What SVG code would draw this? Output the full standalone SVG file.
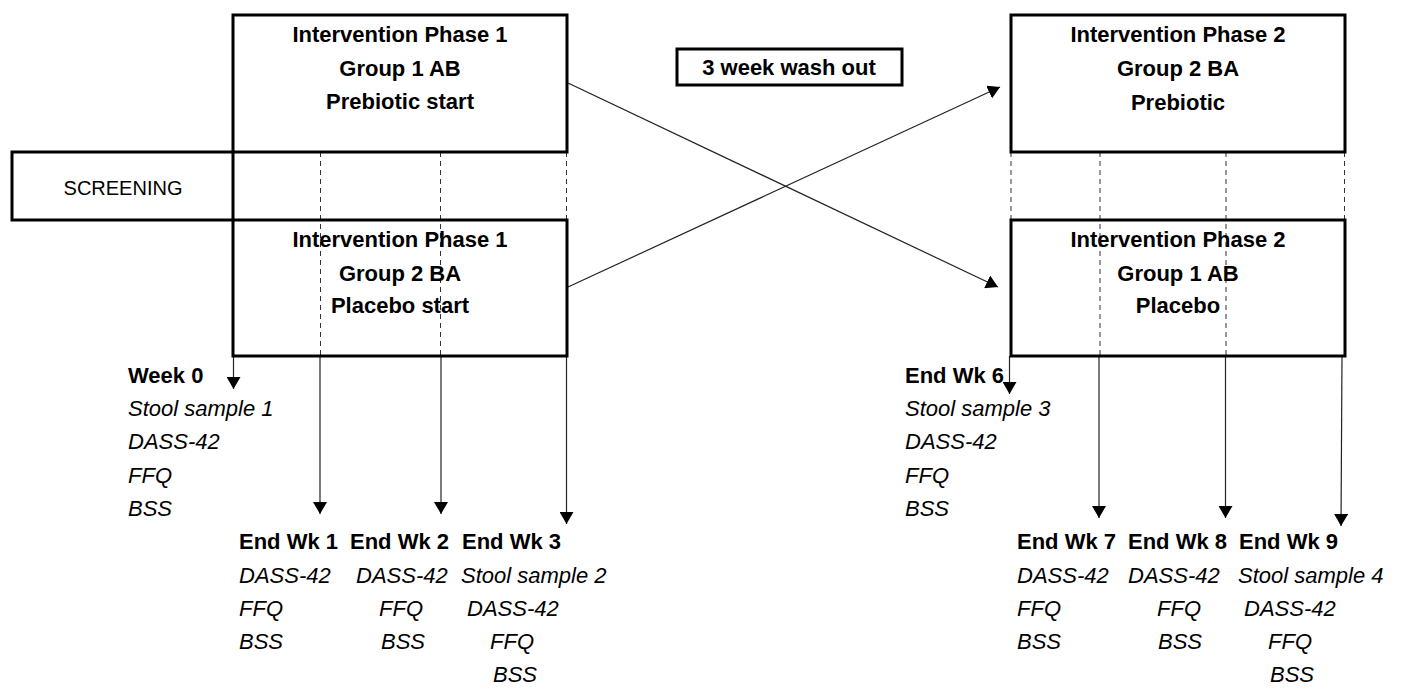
<svg xmlns="http://www.w3.org/2000/svg" width="1402" height="689" viewBox="0 0 1402 689">
<style>
.box{fill:#fff;stroke:#000;stroke-width:3}
.dash{stroke:#333;stroke-width:1;stroke-dasharray:5 4;fill:none}
.arr{stroke:#222;stroke-width:1.2;fill:none;marker-end:url(#ah)}
.b{font-family:"Liberation Sans",Arial,sans-serif;font-weight:bold;font-size:22px;fill:#000}
.c{text-anchor:middle}
.i{font-family:"Liberation Sans",Arial,sans-serif;font-style:italic;font-size:22px;fill:#000}
.r{font-family:"Liberation Sans",Arial,sans-serif;font-size:20px;fill:#000}
</style>
<defs>
<marker id="ah" markerUnits="userSpaceOnUse" markerWidth="13" markerHeight="14" refX="12" refY="7" orient="auto" viewBox="0 0 13 14">
<path d="M0,0 L12,7 L0,14 z" fill="#000"/>
</marker>
</defs>
<rect width="1402" height="689" fill="#fff"/>

<g id="connectors">
<line class="dash" x1="320.5" y1="152" x2="320.5" y2="356"/>
<line class="dash" x1="440.5" y1="152" x2="440.5" y2="356"/>
<line class="dash" x1="566.5" y1="152" x2="566.5" y2="220"/>
<line class="dash" x1="1011" y1="152" x2="1011" y2="220"/>
<line class="dash" x1="1100" y1="152" x2="1100" y2="356"/>
<line class="dash" x1="1226" y1="152" x2="1226" y2="356"/>
<line class="dash" x1="1344.5" y1="152" x2="1344.5" y2="220"/>
<line class="arr" x1="233.5" y1="356" x2="233.5" y2="389"/>
<line class="arr" x1="320" y1="356" x2="320" y2="514"/>
<line class="arr" x1="441" y1="356" x2="441" y2="514"/>
<line class="arr" x1="566.5" y1="356" x2="566.5" y2="524"/>
<line class="arr" x1="1009.5" y1="356" x2="1009.5" y2="394"/>
<line class="arr" x1="1099" y1="356" x2="1099" y2="518"/>
<line class="arr" x1="1225.5" y1="356" x2="1225.5" y2="518"/>
<line class="arr" x1="1342" y1="356" x2="1341" y2="526"/>
<line class="arr" x1="568" y1="83" x2="998" y2="287"/>
<line class="arr" x1="568" y1="287" x2="1000" y2="87"/>
</g>

<g id="screening">
<rect class="box" x="12" y="152" width="221" height="68"/>
<text class="r c" x="123" y="195">SCREENING</text>
</g>

<g id="phase1-group1">
<rect class="box" x="233" y="15" width="334" height="137" style="fill:none"/>
<text class="b c" x="400" y="42">Intervention Phase 1</text>
<text class="b c" x="400" y="76">Group 1 AB</text>
<text class="b c" x="400" y="109">Prebiotic start</text>
</g>

<g id="phase1-group2">
<rect class="box" x="233" y="220" width="334" height="136" style="fill:none"/>
<text class="b c" x="400" y="247">Intervention Phase 1</text>
<text class="b c" x="400" y="281">Group 2 BA</text>
<text class="b c" x="400" y="313">Placebo start</text>
</g>

<g id="washout">
<rect class="box" x="677" y="49" width="225" height="36"/>
<text class="b c" x="789" y="75">3 week wash out</text>
</g>

<g id="phase2-group2">
<rect class="box" x="1011" y="15" width="334" height="137"/>
<text class="b c" x="1178" y="42">Intervention Phase 2</text>
<text class="b c" x="1178" y="76">Group 2 BA</text>
<text class="b c" x="1178" y="110">Prebiotic</text>
</g>

<g id="phase2-group1">
<rect class="box" x="1011" y="220" width="334" height="136" style="fill:none"/>
<text class="b c" x="1178" y="247">Intervention Phase 2</text>
<text class="b c" x="1178" y="281">Group 1 AB</text>
<text class="b c" x="1178" y="313">Placebo</text>
</g>

<g id="week0">
<text class="b" x="128" y="383">Week 0</text>
<text class="i" x="128" y="416">Stool sample 1</text>
<text class="i" x="128" y="449">DASS-42</text>
<text class="i" x="128" y="483">FFQ</text>
<text class="i" x="128" y="516">BSS</text>
</g>

<g id="endwk1">
<text class="b" x="239" y="549">End Wk 1</text>
<text class="i" x="239" y="583">DASS-42</text>
<text class="i" x="239" y="616">FFQ</text>
<text class="i" x="239" y="649">BSS</text>
</g>

<g id="endwk2">
<text class="b" x="350" y="549">End Wk 2</text>
<text class="i" x="356" y="583">DASS-42</text>
<text class="i" x="379" y="616">FFQ</text>
<text class="i" x="381" y="649">BSS</text>
</g>

<g id="endwk3">
<text class="b" x="462" y="549">End Wk 3</text>
<text class="i" x="461" y="583">Stool sample 2</text>
<text class="i" x="467" y="616">DASS-42</text>
<text class="i" x="490" y="649">FFQ</text>
<text class="i" x="493" y="682">BSS</text>
</g>

<g id="endwk6">
<text class="b" x="905" y="383">End Wk 6</text>
<text class="i" x="905" y="416">Stool sample 3</text>
<text class="i" x="905" y="449">DASS-42</text>
<text class="i" x="905" y="483">FFQ</text>
<text class="i" x="905" y="516">BSS</text>
</g>

<g id="endwk7">
<text class="b" x="1017" y="549">End Wk 7</text>
<text class="i" x="1017" y="583">DASS-42</text>
<text class="i" x="1017" y="616">FFQ</text>
<text class="i" x="1017" y="649">BSS</text>
</g>

<g id="endwk8">
<text class="b" x="1128" y="549">End Wk 8</text>
<text class="i" x="1128" y="583">DASS-42</text>
<text class="i" x="1157" y="616">FFQ</text>
<text class="i" x="1158" y="649">BSS</text>
</g>

<g id="endwk9">
<text class="b" x="1239" y="549">End Wk 9</text>
<text class="i" x="1238" y="583">Stool sample 4</text>
<text class="i" x="1244" y="616">DASS-42</text>
<text class="i" x="1268" y="649">FFQ</text>
<text class="i" x="1270" y="682">BSS</text>
</g>
</svg>
